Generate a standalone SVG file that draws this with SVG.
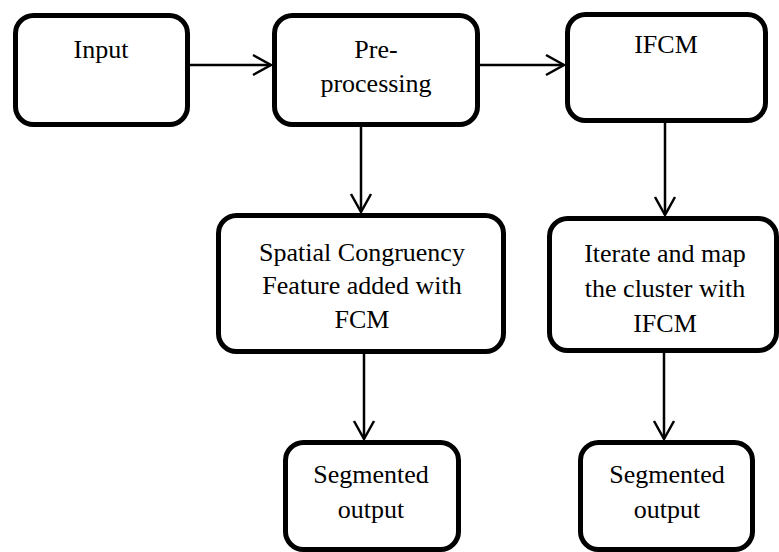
<svg xmlns="http://www.w3.org/2000/svg" width="779" height="552" viewBox="0 0 779 552">
<style>
.box{fill:#fff;stroke:#000;stroke-width:5}
.t{font-family:"Liberation Serif","Times New Roman",serif;font-size:26px;fill:#000;text-anchor:middle}
.c{fill:none;stroke:#000;stroke-width:2.5}
</style>
<defs>
<marker id="arr" markerUnits="userSpaceOnUse" markerWidth="26" markerHeight="26" viewBox="-21 -13 26 26" refX="0" refY="0" orient="auto">
<path d="M-18,-10 L0,0 L-18,10" fill="none" stroke="#000" stroke-width="2.5" stroke-linejoin="miter"/>
</marker>
</defs>
<rect width="779" height="552" fill="#fff"/>
<g id="connectors">
<line class="c" x1="190" y1="65" x2="271" y2="65" marker-end="url(#arr)"/>
<line class="c" x1="480" y1="65" x2="564" y2="65" marker-end="url(#arr)"/>
<line class="c" x1="361" y1="127" x2="361" y2="212" marker-end="url(#arr)"/>
<line class="c" x1="665" y1="123" x2="665" y2="215" marker-end="url(#arr)"/>
<line class="c" x1="364" y1="354" x2="364" y2="439" marker-end="url(#arr)"/>
<line class="c" x1="664" y1="353" x2="664" y2="439" marker-end="url(#arr)"/>
</g>
<g id="input">
<rect class="box" x="15.5" y="15.5" width="172" height="109" rx="18"/>
<text class="t" x="101" y="58">Input</text>
</g>
<g id="preprocessing">
<rect class="box" x="274.5" y="15.5" width="203" height="109" rx="18"/>
<text class="t" x="376" y="58">Pre-</text>
<text class="t" x="376" y="92">processing</text>
</g>
<g id="ifcm">
<rect class="box" x="567.5" y="14.5" width="198" height="106" rx="18"/>
<text class="t" x="666" y="53">IFCM</text>
</g>
<g id="spatial">
<rect class="box" x="218.5" y="215.5" width="285" height="136" rx="18"/>
<text class="t" x="362" y="261">Spatial Congruency</text>
<text class="t" x="362" y="294">Feature added with</text>
<text class="t" x="362" y="328">FCM</text>
</g>
<g id="iterate">
<rect class="box" x="549.5" y="218.5" width="227" height="132" rx="18"/>
<text class="t" x="665" y="262">Iterate and map</text>
<text class="t" x="665" y="297">the cluster with</text>
<text class="t" x="665" y="332">IFCM</text>
</g>
<g id="segmented1">
<rect class="box" x="285.5" y="442.5" width="173" height="107" rx="18"/>
<text class="t" x="371" y="483">Segmented</text>
<text class="t" x="371" y="518">output</text>
</g>
<g id="segmented2">
<rect class="box" x="580.5" y="442.5" width="172" height="107" rx="18"/>
<text class="t" x="667" y="483">Segmented</text>
<text class="t" x="667" y="518">output</text>
</g>
</svg>
